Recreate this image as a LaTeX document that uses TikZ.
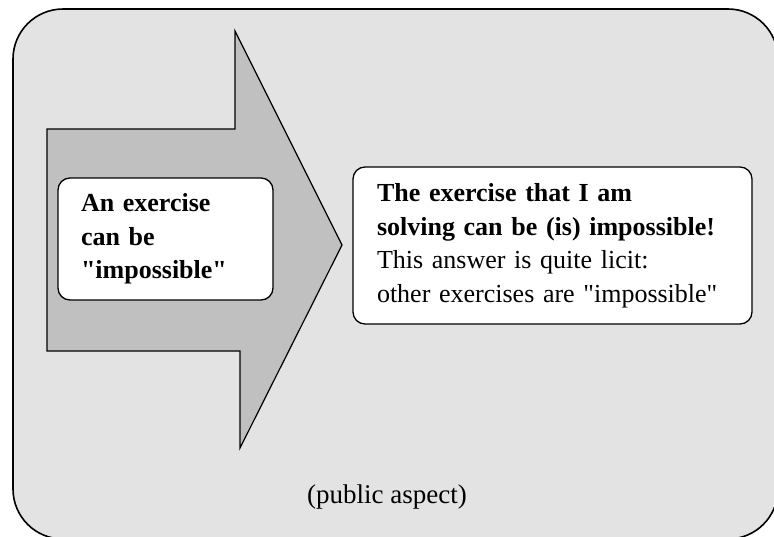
\documentclass[tikz,border=0pt]{standalone}
\usepackage{fontspec}
\setmainfont{Liberation Serif}[Ligatures=TeXOff]
\definecolor{outerfill}{HTML}{E3E3E3}
\definecolor{arrowfill}{HTML}{C0C0C0}
\begin{document}
\begin{tikzpicture}[x=1pt,y=-1pt,
  txt/.style={font={\fontsize{26}{33.5}\selectfont}},
  whitebox/.style={draw=black,line width=1.3pt,fill=white,rounded corners=12pt,
    align=left,inner ysep=0pt,txt}]
\useasboundingbox (0,0) rectangle (774,536);
% outer panel
\draw[line width=1.6pt,fill=outerfill,rounded corners=50pt] (13,9) rectangle (778,539);
% big arrow
\draw[line width=1.2pt,fill=arrowfill] (47,129) -- (235,129) -- (235,31) -- (342,245)
  -- (240,448) -- (240,351) -- (47,351) -- cycle;
% left box
\node[whitebox,minimum width=215pt,minimum height=122pt,text width=169pt,inner xsep=23pt]
  (lbox) at (165.5,239) {\textbf{An exercise}\\\textbf{can be}\\\textbf{"impossible"}};
% right box
\node[whitebox,minimum width=399pt,minimum height=157pt,text width=351pt,inner xsep=24pt]
  (rbox) at (552.5,245.5) {\textbf{The exercise that I am}\\\textbf{solving can be (is) impossible!}\\This answer is quite licit:\\other exercises are "impossible"};
% caption
\node[anchor=base west,inner sep=0pt,font={\fontsize{27}{32}\selectfont}] (cap) at (307,503) {(public aspect)};
\end{tikzpicture}
\end{document}
